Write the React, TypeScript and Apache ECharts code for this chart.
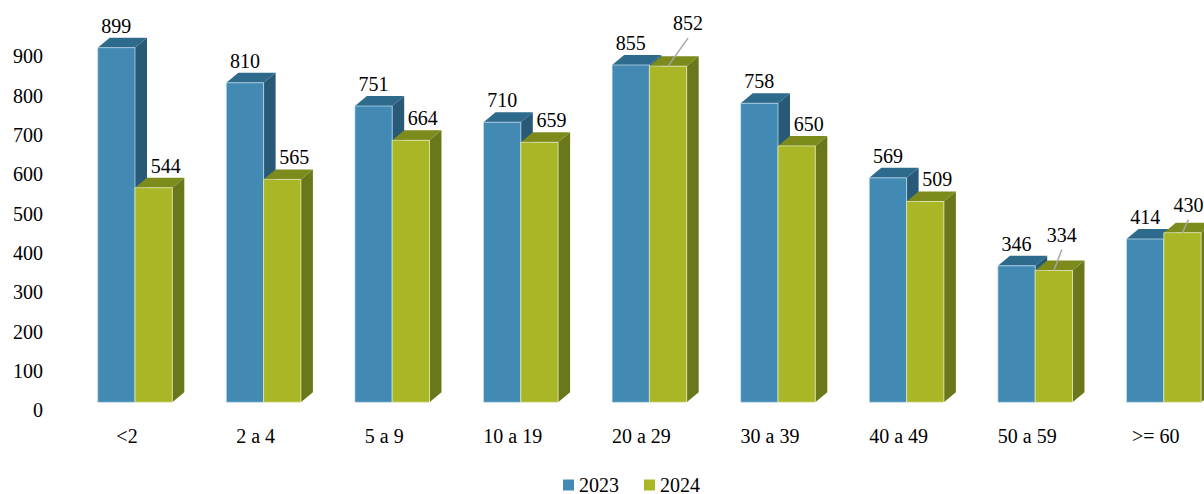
import React, { useEffect, useRef } from "react";
import * as echarts from "echarts";

const categories = ["<2", "2 a 4", "5 a 9", "10 a 19", "20 a 29", "30 a 39", "40 a 49", "50 a 59", ">= 60"];
const values2023 = [899, 810, 751, 710, 855, 758, 569, 346, 414];
const values2024 = [544, 565, 664, 659, 852, 650, 509, 334, 430];
const seriesNames = ["2023", "2024"];
const yMin = 0;
const yMax = 900;
const yInterval = 100;

// styling / layout (not data)
const COLORS = [
  { front: "#4289B4", top: "#2E6A8C", side: "#285A77", edge: "rgba(200,225,240,0.7)" },
  { front: "#A9B726", top: "#7D8A1C", side: "#6A771A", edge: "rgba(235,240,200,0.7)" },
];
const DX = 12;
const DY = 10;
const FONT = "'Liberation Serif', 'Times New Roman', 'DejaVu Serif', serif";
// manually moved labels (with leader line) for 2024 series: index -> [dx, dy] relative to front-face top centre
const moved2024: Record<number, [number, number]> = { 4: [20, -43], 7: [8, -36], 8: [6, -28] };

const makeRender = (s: number) => (params: any, api: any) => {
  const idx = api.value(0);
  const val = api.value(1);
  const base = api.coord([idx, 0]);
  const cx = base[0];
  const baseY = base[1];
  const topY = api.coord([idx, val])[1];
  const bw = api.size([1, 0])[0] * 0.29;
  const x0 = s === 0 ? cx - bw : cx;
  const x1 = x0 + bw;
  const c = COLORS[s];
  const fcx = x0 + bw / 2;
  const children: any[] = [
    {
      type: "polygon",
      shape: { points: [[x1, topY], [x1 + DX, topY - DY], [x1 + DX, baseY - DY], [x1, baseY]] },
      style: { fill: c.side },
    },
    {
      type: "polygon",
      shape: { points: [[x0, topY], [x0 + DX, topY - DY], [x1 + DX, topY - DY], [x1, topY]] },
      style: { fill: c.top },
    },
    {
      type: "rect",
      shape: { x: x0, y: topY, width: bw, height: baseY - topY },
      style: { fill: c.front, stroke: c.edge, lineWidth: 1 },
    },
  ];
  let lx = fcx;
  let ly = topY - 22;
  if (s === 1) {
    const m = moved2024[idx];
    if (m) {
      lx = fcx + m[0];
      ly = topY + m[1];
      children.push({
        type: "line",
        shape: { x1: lx, y1: ly + 15, x2: fcx, y2: topY },
        style: { stroke: "#A6A6A6", lineWidth: 1.5 },
      });
    } else {
      lx = fcx + 12;
    }
  }
  children.push({
    type: "text",
    style: {
      text: String(val),
      x: lx,
      y: ly,
      align: "center",
      verticalAlign: "middle",
      fill: "#000",
      fontSize: 20,
      fontFamily: FONT,
    },
  });
  return { type: "group", children };
};

export default function App() {
  const ref = useRef<HTMLDivElement>(null);
  useEffect(() => {
    document.body.style.margin = "0";
    if (!ref.current) return;
    const chart = echarts.init(ref.current, undefined, { renderer: "svg" });
    const seriesData = [values2023, values2024];
    chart.setOption({
      animation: false,
      backgroundColor: "#fff",
      grid: [
        { left: 70.7, top: 47.25, width: 1157.4, height: 355.05 },
        { left: 51, top: 56.3, width: 100, height: 354 },
      ],
      xAxis: [
        {
          type: "category",
          gridIndex: 0,
          data: categories,
          axisLine: { show: false },
          axisTick: { show: false },
          axisLabel: {
            interval: 0,
            margin: 34,
            verticalAlign: "middle",
            padding: [0, 16, 0, 0],
            fontSize: 20,
            fontFamily: FONT,
            color: "#000",
          },
        },
        { type: "value", gridIndex: 1, show: false, min: 0, max: 1 },
      ],
      yAxis: [
        { type: "value", gridIndex: 0, min: yMin, max: yMax, show: false },
        {
          type: "value",
          gridIndex: 1,
          min: yMin,
          max: yMax,
          interval: yInterval,
          axisLine: { show: false },
          axisTick: { show: false },
          splitLine: { show: false },
          axisLabel: { margin: 8, fontSize: 20, fontFamily: FONT, color: "#000" },
        },
      ],
      legend: {
        data: seriesNames,
        left: 563,
        top: 475,
        padding: 0,
        icon: "rect",
        itemWidth: 11,
        itemHeight: 11,
        itemGap: 25,
        textStyle: { fontSize: 20, fontFamily: FONT, color: "#000" },
      },
      series: seriesNames.map((name, s) => ({
        name,
        type: "custom",
        xAxisIndex: 0,
        yAxisIndex: 0,
        itemStyle: { color: COLORS[s].front },
        encode: { x: 0, y: 1 },
        data: seriesData[s].map((v, i) => [i, v]),
        renderItem: makeRender(s),
      })),
    });
    return () => chart.dispose();
  }, []);
  return (
    <div style={{ width: 1204, height: 494, overflow: "hidden", position: "relative" }}>
      <div ref={ref} style={{ width: 1240, height: 494 }} />
    </div>
  );
}
